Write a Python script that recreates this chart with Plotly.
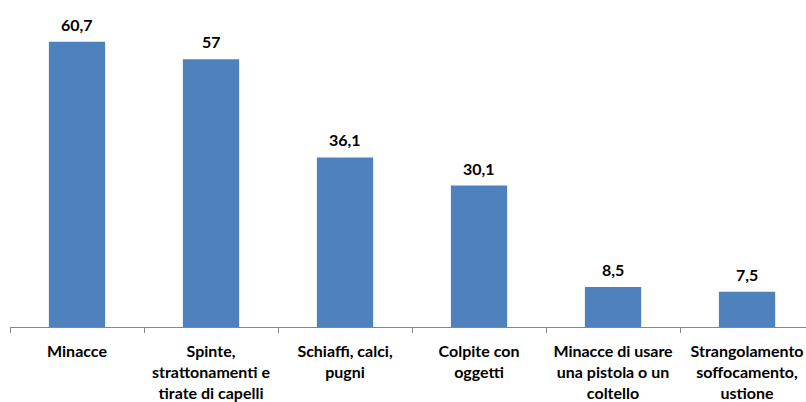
import plotly.graph_objects as go

categories = [
    "Minacce",
    "Spinte,<br>strattonamenti e<br>tirate di capelli",
    "Schiaffi, calci,<br>pugni",
    "Colpite con<br>oggetti",
    "Minacce di usare<br>una pistola o un<br>coltello",
    "Strangolamento<br>soffocamento,<br>ustione",
]
values = [60.7, 57, 36.1, 30.1, 8.5, 7.5]
value_labels = [f"{v:g}".replace(".", ",") for v in values]

font_family = "Lato, 'Open Sans', Arial, sans-serif"
bold_font = dict(family=font_family, size=16, color="#000000", weight="bold")

fig = go.Figure(
    go.Bar(
        x=categories,
        y=values,
        marker=dict(color="#4F81BD", line=dict(width=0)),
        hoverinfo="x+y",
    )
)

# value labels sit a little above each bar
for cat, val, lab in zip(categories, values, value_labels):
    fig.add_annotation(
        x=cat,
        y=val,
        text=lab,
        showarrow=False,
        yanchor="bottom",
        yshift=6,
        font=bold_font,
    )

fig.update_layout(
    width=806,
    height=402,
    margin=dict(l=10, r=0, t=0, b=75),
    paper_bgcolor="white",
    plot_bgcolor="white",
    bargap=0.58,
    showlegend=False,
    font=dict(family=font_family, size=16, color="#000000"),
)

fig.update_xaxes(
    type="category",
    range=[-0.5, 5.44],
    showline=True,
    linecolor="#868686",
    linewidth=1,
    ticks="outside",
    tickson="boundaries",
    ticklen=5,
    tickcolor="#868686",
    tickfont=bold_font,
    ticklabelstandoff=10,
    showgrid=False,
)

fig.update_yaxes(
    range=[0, 69.6],
    visible=False,
    showgrid=False,
    zeroline=False,
)

fig.write_html("out.html")
